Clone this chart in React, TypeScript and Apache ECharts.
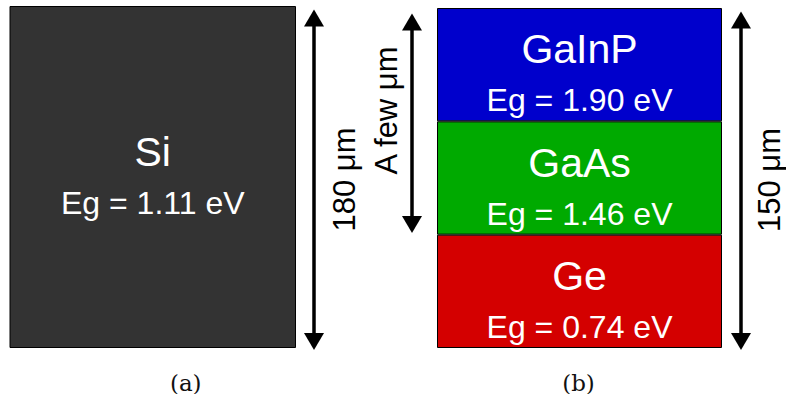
import React, { useEffect, useRef } from "react";
import * as echarts from "echarts";

// ---- data ----
const captionA = ["(a)"];
const captionB = ["(b)"];
const singleNames = ["Si"];
const singleGaps = [1.11];
const singleThickness = [3];
const stackNames = ["Ge", "GaAs", "GaInP"];
const stackGaps = [0.74, 1.46, 1.9];
const stackThickness = [1, 1, 1];
const thicknessLabels = ["180 μm", "A few μm", "150 μm"];

const stackColors = ["#d40000", "#00aa00", "#0000cc"];
const singleColor = "#333333";
const SANS = "Liberation Sans";

function labelFor(name: string, gap: number, offsetY: number) {
  return {
    show: true,
    position: "inside",
    offset: [0, offsetY],
    formatter: `{n|${name}}\n{e|Eg = ${gap.toFixed(2)} eV}`,
    rich: {
      n: { fontSize: 41, lineHeight: 51, color: "#fff", fontFamily: SANS, align: "center" },
      e: { fontSize: 32, lineHeight: 51, color: "#fff", fontFamily: SANS, align: "center" },
    },
  };
}

function arrow(x: number, top: number, bottom: number) {
  const hl = 17;
  const hw = 10;
  return [
    { type: "line", shape: { x1: x, y1: top + hl - 1, x2: x, y2: bottom - hl + 1 }, style: { stroke: "#000", lineWidth: 3.5 } },
    { type: "polygon", shape: { points: [[x - hw, top + hl], [x + hw, top + hl], [x, top]] }, style: { fill: "#000" } },
    { type: "polygon", shape: { points: [[x - hw, bottom - hl], [x + hw, bottom - hl], [x, bottom]] }, style: { fill: "#000" } },
  ];
}

function vText(text: string, x: number, y: number) {
  return {
    type: "text",
    x,
    y,
    rotation: Math.PI / 2,
    style: { text, fontSize: 31, fontFamily: SANS, fill: "#000", align: "center", verticalAlign: "middle" },
  };
}

export default function App() {
  const ref = useRef<HTMLDivElement>(null);
  useEffect(() => {
    if (!ref.current) return;
    const chart = echarts.init(ref.current, undefined, { renderer: "svg" });
    const capStyle = {
      fontFamily: "DejaVu Serif",
      fontSize: 23,
      color: "#111",
      margin: 23,
    };
    const option: any = {
      animation: false,
      backgroundColor: "#fff",
      grid: [
        { left: 9.5, top: 6, width: 286.5, height: 342.5 },
        { left: 437, top: 8, width: 285, height: 340.5 },
      ],
      xAxis: [
        {
          type: "category", gridIndex: 0, data: captionA,
          axisLine: { show: false }, axisTick: { show: false },
          axisLabel: { ...capStyle, padding: [0, 0, 0, 66] },
        },
        {
          type: "category", gridIndex: 1, data: captionB,
          axisLine: { show: false }, axisTick: { show: false },
          axisLabel: { ...capStyle, padding: [0, 0, 0, -2] },
        },
      ],
      yAxis: [
        { type: "value", gridIndex: 0, min: 0, max: 3, show: false },
        { type: "value", gridIndex: 1, min: 0, max: 3, show: false },
      ],
      series: [
        ...singleNames.map((name, i) => ({
          type: "bar",
          name,
          xAxisIndex: 0,
          yAxisIndex: 0,
          stack: "a",
          barWidth: "100%",
          data: [singleThickness[i]],
          itemStyle: { color: singleColor, borderColor: "#000", borderWidth: 1 },
          label: labelFor(name, singleGaps[i], 0),
        })),
        ...stackNames.map((name, i) => ({
          type: "bar",
          name,
          xAxisIndex: 1,
          yAxisIndex: 1,
          stack: "b",
          barWidth: "100%",
          data: [stackThickness[i]],
          itemStyle: { color: stackColors[i], borderColor: "#000", borderWidth: 1 },
          label: labelFor(name, stackGaps[i], 10),
        })),
      ],
      graphic: [
        ...arrow(314, 9.5, 350),
        ...arrow(412, 13.5, 233),
        ...arrow(741, 11.5, 350),
        vText(thicknessLabels[0], 344, 179.5),
        vText(thicknessLabels[1], 386, 110.5),
        vText(thicknessLabels[2], 769.5, 180),
      ],
    };
    chart.setOption(option);
    return () => chart.dispose();
  }, []);
  return (
    <div
      ref={ref}
      style={{ position: "fixed", left: 0, top: 0, width: 786, height: 394 }}
    />
  );
}
